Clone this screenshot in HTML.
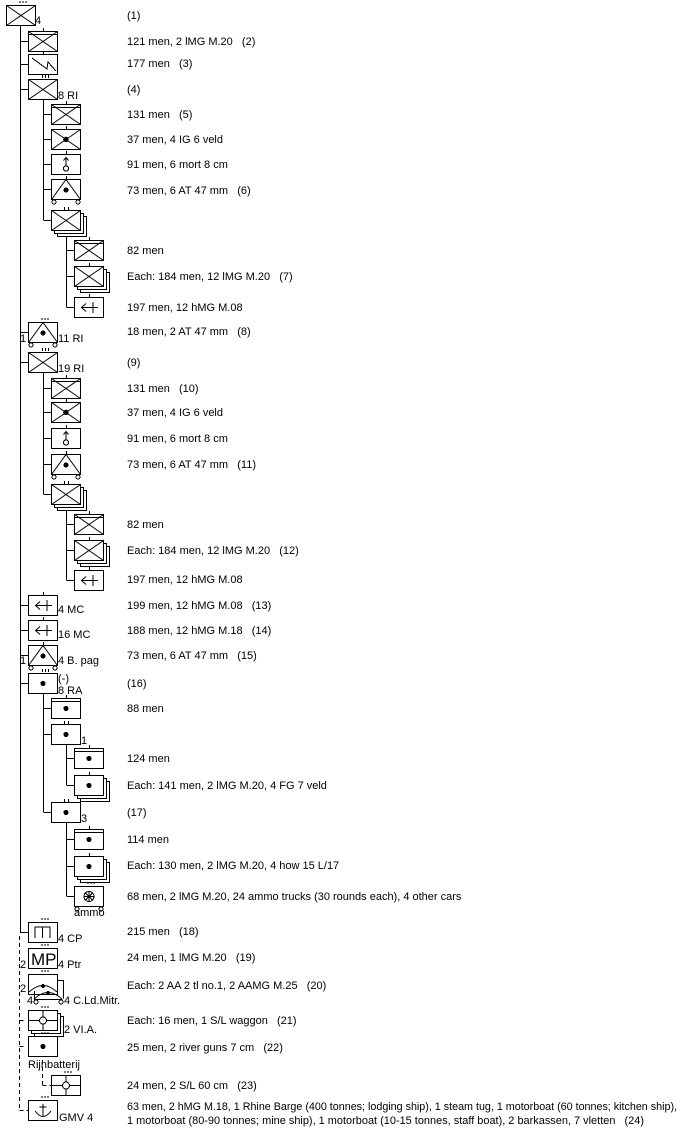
<!DOCTYPE html>
<html><head><meta charset="utf-8"><style>
html,body{margin:0;padding:0;background:#fff;}
svg{display:block;font-family:"Liberation Sans",sans-serif;font-size:11px;}
text{fill:#000;white-space:pre}
</style></head><body>
<svg width="681" height="1140" viewBox="0 0 681 1140" xmlns="http://www.w3.org/2000/svg" shape-rendering="crispEdges" xml:space="preserve">
<defs>
<g id="bx"><rect x="0.5" y="0.5" width="29" height="20" fill="#fff" stroke="#000"/></g>
<g id="inf"><use href="#bx"/><path d="M0.5 0.5L29.5 20.5M29.5 0.5L0.5 20.5" stroke="#000" fill="none" shape-rendering="auto"/></g>
<g id="infh"><use href="#inf"/><path d="M0.5 3.5H29.5" stroke="#000"/></g>
<g id="ig"><use href="#inf"/><circle cx="15" cy="10.5" r="2.8" fill="#000"/></g>
<g id="mort"><use href="#bx"/><path d="M15 4V12M12.5 6.5L15 3.5L17.5 6.5" stroke="#000" fill="none" shape-rendering="auto"/><circle cx="15" cy="14.5" r="2.6" fill="#fff" stroke="#000"/></g>
<g id="at"><use href="#bx"/><path d="M0.5 20.5L15 0.5L29.5 20.5" stroke="#000" fill="none" shape-rendering="auto"/><circle cx="15" cy="11" r="2.5" fill="#000"/><circle cx="3" cy="23" r="2" fill="#fff" stroke="#000"/><circle cx="27" cy="23" r="2" fill="#fff" stroke="#000"/></g>
<g id="mg"><use href="#bx"/><path d="M8 10.5H24M19 5V16M12 6.5L7.5 10.5L12 14.5" stroke="#000" fill="none" shape-rendering="auto"/></g>
<g id="art"><use href="#bx"/><circle cx="15" cy="10.5" r="2.6" fill="#000"/></g>
<g id="arth"><use href="#art"/><path d="M0.5 3.5H29.5" stroke="#000"/></g>
<g id="sl"><use href="#bx"/><path d="M0.5 10.5H29.5M15 0.5V20.5" stroke="#000"/><circle cx="15" cy="10.5" r="3.5" fill="#fff" stroke="#000"/></g>
<g id="t3"><path d="M14.5 -4v3M17.5 -4v3M20.5 -4v3" stroke="#000"/></g>
<g id="d3"><path d="M13 -3h2M16 -3h2M19 -3h2" stroke="#000"/></g>
<g id="t1"><path d="M15.5 -3v3" stroke="#000"/></g>
<g id="t2"><path d="M13.5 -3v3M17.5 -3v3" stroke="#000"/></g>
</defs>
<g stroke="#000" fill="none">
<path d="M20.5 25V933M20.5 41.5H28M20.5 64.5H28M20.5 89.5H28M20.5 332.5H28M20.5 362.5H28M20.5 605.5H28M20.5 630.5H28M20.5 655.5H28M20.5 683.5H28M20.5 932.5H28"/>
<path d="M43.5 99V220M43.5 114.5H51M43.5 139.5H51M43.5 164.5H51M43.5 189.5H51M43.5 220.5H51"/>
<path d="M66.5 232V307M66.5 250.5H74M66.5 276.5H74M66.5 307.5H74"/>
<path d="M43.5 372V494M43.5 388.5H51M43.5 412.5H51M43.5 438.5H51M43.5 464.5H51M43.5 494.5H51"/>
<path d="M66.5 506V580M66.5 524.5H74M66.5 550.5H74M66.5 580.5H74"/>
<path d="M43.5 693V812M43.5 708.5H51M43.5 734.5H51M43.5 812.5H51"/>
<path d="M66.5 744V785M66.5 758.5H74M66.5 785.5H74"/>
<path d="M66.5 822V896M66.5 839.5H74M66.5 866.5H74M66.5 896.5H74"/>
<path d="M19.5 936V1110M19.5 1110.5H28M19.5 1046.5H26M19.5 1020.5H26M42.5 1060V1085M42.5 1085.5H51" stroke-dasharray="4,3"/>
</g>
<use href="#inf" x="6" y="5"/><use href="#d3" x="6" y="5"/>
<use href="#infh" x="28" y="31"/><use href="#t1" x="28" y="31"/>
<use href="#bx" x="28" y="54"/><use href="#t1" x="28" y="54"/>
<path d="M32 58L47 69L48 62L56 71" stroke="#000" fill="none"/>
<use href="#inf" x="28" y="79"/><use href="#t3" x="28" y="79"/>
<use href="#infh" x="51" y="104"/><use href="#t1" x="51" y="104"/>
<use href="#ig" x="51" y="129"/><use href="#t1" x="51" y="129"/>
<use href="#mort" x="51" y="154"/><use href="#t1" x="51" y="154"/>
<use href="#at" x="51" y="179"/><use href="#t1" x="51" y="179"/>
<use href="#bx" x="57" y="216"/><use href="#bx" x="54" y="213"/><use href="#inf" x="51" y="210"/><use href="#t2" x="51" y="210"/>
<use href="#infh" x="74" y="240"/><use href="#t1" x="74" y="240"/>
<use href="#bx" x="80" y="272"/><use href="#bx" x="77" y="269"/><use href="#inf" x="74" y="266"/><use href="#t1" x="74" y="266"/>
<use href="#mg" x="74" y="297"/><use href="#t1" x="74" y="297"/>
<use href="#at" x="28" y="322"/><use href="#d3" x="28" y="322"/>
<use href="#inf" x="28" y="352"/><use href="#t3" x="28" y="352"/>
<use href="#infh" x="51" y="378"/><use href="#t1" x="51" y="378"/>
<use href="#ig" x="51" y="402"/><use href="#t1" x="51" y="402"/>
<use href="#mort" x="51" y="428"/><use href="#t1" x="51" y="428"/>
<use href="#at" x="51" y="454"/><use href="#t1" x="51" y="454"/>
<use href="#bx" x="57" y="490"/><use href="#bx" x="54" y="487"/><use href="#inf" x="51" y="484"/><use href="#t2" x="51" y="484"/>
<use href="#infh" x="74" y="514"/><use href="#t1" x="74" y="514"/>
<use href="#bx" x="80" y="546"/><use href="#bx" x="77" y="543"/><use href="#inf" x="74" y="540"/><use href="#t1" x="74" y="540"/>
<use href="#mg" x="74" y="570"/><use href="#t1" x="74" y="570"/>
<use href="#mg" x="28" y="595"/><use href="#t1" x="28" y="595"/>
<use href="#mg" x="28" y="620"/><use href="#t1" x="28" y="620"/>
<use href="#at" x="28" y="645"/><use href="#t1" x="28" y="645"/>
<use href="#art" x="28" y="673"/><use href="#t3" x="28" y="673"/>
<use href="#arth" x="51" y="698"/><use href="#t1" x="51" y="698"/>
<use href="#art" x="51" y="724"/><use href="#t2" x="51" y="724"/>
<use href="#arth" x="74" y="748"/><use href="#t1" x="74" y="748"/>
<use href="#bx" x="80" y="781"/><use href="#bx" x="77" y="778"/><use href="#art" x="74" y="775"/><use href="#t1" x="74" y="775"/>
<use href="#art" x="51" y="802"/><use href="#t2" x="51" y="802"/>
<use href="#arth" x="74" y="829"/><use href="#t1" x="74" y="829"/>
<use href="#bx" x="80" y="862"/><use href="#bx" x="77" y="859"/><use href="#art" x="74" y="856"/><use href="#t1" x="74" y="856"/>
<use href="#bx" x="74" y="886"/><use href="#d3" x="74" y="886"/>
<circle cx="89" cy="896.5" r="5" fill="#fff" stroke="#000"/><path d="M84 896.5h10M89 891.5v10M85.5 893l7 7M92.5 893l-7 7" stroke="#000"/>
<circle cx="77" cy="909" r="2" fill="#fff" stroke="#000"/><circle cx="101" cy="909" r="2" fill="#fff" stroke="#000"/>
<use href="#bx" x="28" y="922"/><use href="#d3" x="28" y="922"/>
<path d="M35 938V927H50V938M42.5 927V938" stroke="#000" fill="none"/>
<use href="#bx" x="28" y="948"/><use href="#d3" x="28" y="948"/>
<text x="31" y="965" style="font-size:17px">MP</text>
<!-- C.Ld.Mitr -->
<rect x="28.5" y="974.5" width="29" height="20" fill="#fff" stroke="#000"/><use href="#d3" x="28" y="974"/>
<path d="M29 992Q43 979 57 992" stroke="#000" fill="none" shape-rendering="auto"/><circle cx="43" cy="986" r="2" fill="#000"/>
<path d="M57.5 980.5H63.5V998.5" stroke="#000" fill="none"/>
<path d="M34 999Q48 986 62 999" stroke="#000" fill="none" shape-rendering="auto"/><circle cx="48" cy="993" r="2" fill="#000"/>
<path d="M34.5 991V999.5H62.5" stroke="#000" fill="none"/>
<circle cx="36" cy="1002" r="2" fill="#fff" stroke="#000"/><circle cx="61" cy="1002" r="2" fill="#fff" stroke="#000"/>
<!-- VI.A -->
<use href="#bx" x="34" y="1016"/><use href="#bx" x="31" y="1013"/><use href="#sl" x="28" y="1010"/><use href="#d3" x="28" y="1010"/>
<use href="#art" x="28" y="1036"/><use href="#d3" x="28" y="1036"/>
<use href="#sl" x="51" y="1075"/><use href="#d3" x="51" y="1075"/>
<use href="#bx" x="28" y="1100"/><use href="#d3" x="28" y="1100"/>
<path d="M43 1104V1117M39.5 1107H46.5M35 1111Q43 1122 51 1111" stroke="#000" fill="none" shape-rendering="auto"/>
<text x="35" y="24">4</text>
<text x="58" y="99">8 RI</text>
<text x="20" y="342">1</text><text x="58" y="342">11 RI</text>
<text x="58" y="372">19 RI</text>
<text x="58" y="613">4 MC</text>
<text x="58" y="638">16 MC</text>
<text x="20" y="664">1</text><text x="58" y="664">4 B. pag</text>
<text x="58" y="682">(-)</text><text x="58" y="694">8 RA</text>
<text x="81" y="744">1</text>
<text x="81" y="822">3</text>
<text x="74" y="916">ammo</text>
<text x="58" y="942">4 CP</text>
<text x="20" y="968">2</text><text x="58" y="968">4 Ptr</text>
<text x="20" y="992">2</text>
<text x="27" y="1004">4</text><text x="64" y="1004">4 C.Ld.Mitr.</text>
<text x="64" y="1033">2 VI.A.</text>
<text x="28" y="1068">Rijnbatterij</text>
<text x="59" y="1121">GMV 4</text>
<g>
<text x="127" y="19">(1)</text>
<text x="127" y="45">121 men, 2 lMG M.20   (2)</text>
<text x="127" y="67">177 men   (3)</text>
<text x="127" y="93">(4)</text>
<text x="127" y="118">131 men   (5)</text>
<text x="127" y="143">37 men, 4 IG 6 veld</text>
<text x="127" y="168">91 men, 6 mort 8 cm</text>
<text x="127" y="194">73 men, 6 AT 47 mm   (6)</text>
<text x="127" y="254">82 men</text>
<text x="127" y="280">Each: 184 men, 12 lMG M.20   (7)</text>
<text x="127" y="311">197 men, 12 hMG M.08</text>
<text x="127" y="335">18 men, 2 AT 47 mm   (8)</text>
<text x="127" y="366">(9)</text>
<text x="127" y="392">131 men   (10)</text>
<text x="127" y="416">37 men, 4 IG 6 veld</text>
<text x="127" y="442">91 men, 6 mort 8 cm</text>
<text x="127" y="468">73 men, 6 AT 47 mm   (11)</text>
<text x="127" y="528">82 men</text>
<text x="127" y="554">Each: 184 men, 12 lMG M.20   (12)</text>
<text x="127" y="583">197 men, 12 hMG M.08</text>
<text x="127" y="609">199 men, 12 hMG M.08   (13)</text>
<text x="127" y="634">188 men, 12 hMG M.18   (14)</text>
<text x="127" y="659">73 men, 6 AT 47 mm   (15)</text>
<text x="127" y="687">(16)</text>
<text x="127" y="712">88 men</text>
<text x="127" y="762">124 men</text>
<text x="127" y="789">Each: 141 men, 2 lMG M.20, 4 FG 7 veld</text>
<text x="127" y="816">(17)</text>
<text x="127" y="843">114 men</text>
<text x="127" y="869">Each: 130 men, 2 lMG M.20, 4 how 15 L/17</text>
<text x="127" y="900">68 men, 2 lMG M.20, 24 ammo trucks (30 rounds each), 4 other cars</text>
<text x="127" y="935">215 men   (18)</text>
<text x="127" y="961">24 men, 1 lMG M.20   (19)</text>
<text x="127" y="989">Each: 2 AA 2 tl no.1, 2 AAMG M.25   (20)</text>
<text x="127" y="1024">Each: 16 men, 1 S/L waggon   (21)</text>
<text x="127" y="1051">25 men, 2 river guns 7 cm   (22)</text>
<text x="127" y="1089">24 men, 2 S/L 60 cm   (23)</text>
<text x="127" y="1110" textLength="550" lengthAdjust="spacingAndGlyphs">63 men, 2 hMG M.18, 1 Rhine Barge (400 tonnes; lodging ship), 1 steam tug, 1 motorboat (60 tonnes; kitchen ship),</text>
<text x="127" y="1124" textLength="517" lengthAdjust="spacingAndGlyphs">1 motorboat (80-90 tonnes; mine ship), 1 motorboat (10-15 tonnes, staff boat), 2 barkassen, 7 vletten   (24)</text>
</g>
</svg>
</body></html>
